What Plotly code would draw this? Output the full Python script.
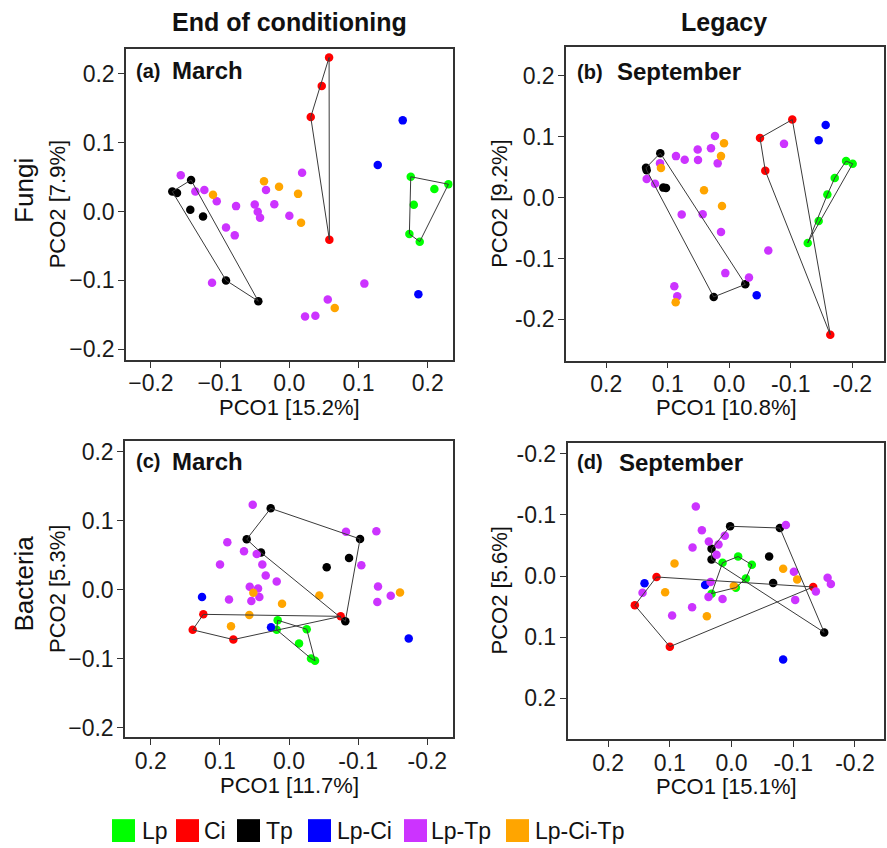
import plotly.graph_objects as go

# ---------------- data ----------------
GROUPS = ["Lp", "Ci", "Tp", "Lp-Ci", "Lp-Tp", "Lp-Ci-Tp"]
COLORS = ["#00FF00", "#FF0000", "#000000", "#0000FF", "#CC33FF", "#FFA500"]
HULL_GROUPS = ["Lp", "Ci", "Tp"]

# Panel (a) Fungi, March
A_LP_X = [0.1754, 0.2298, 0.2095, 0.1798, 0.1734, 0.1884]
A_LP_Y = [0.0505, 0.0396, 0.0328, 0.0097, -0.0326, -0.0438]
A_CI_X = [0.0574, 0.0468, 0.0309, 0.0578]
A_CI_Y = [0.2238, 0.1825, 0.1372, -0.0409]
A_TP_X = [-0.1420, -0.1691, -0.1623, -0.1431, -0.1247, -0.0915, -0.0448]
A_TP_Y = [0.0458, 0.0289, 0.0270, 0.0025, -0.0072, -0.1001, -0.1304]
A_LPCI_X = [0.1638, 0.1277, 0.1864]
A_LPCI_Y = [0.1324, 0.0674, -0.1203]
A_LPTP_X = [-0.1569, -0.1358, -0.1228, -0.1049, -0.0770, -0.0500, -0.0457, -0.0423, -0.0337,
            -0.0217, 0.0000, 0.0184, -0.0915, -0.0789, -0.1117, 0.0227, 0.0376, 0.0555, 0.1084]
A_LPTP_Y = [0.0525, 0.0289, 0.0313, 0.0150, 0.0078, 0.0101, -0.0004, -0.0091, 0.0313,
            0.0107, -0.0062, 0.0563, -0.0231, -0.0347, -0.1034, -0.1525, -0.1516, -0.1279, -0.1048]
A_LPCITP_X = [-0.1103, -0.0366, -0.0149, 0.0126, 0.0169, 0.0656]
A_LPCITP_Y = [0.0245, 0.0439, 0.0361, 0.0256, -0.0163, -0.1401]

# Panel (b) Fungi, September
B_LP_X = [-0.1898, -0.2006, -0.1714, -0.1594, -0.1453, -0.1275]
B_LP_Y = [0.0599, 0.0555, 0.0321, 0.0049, -0.0385, -0.0744]
B_CI_X = [-0.1024, -0.0499, -0.0585, -0.1642]
B_CI_Y = [0.1279, 0.0979, 0.0440, -0.2251]
B_TP_X = [0.1122, 0.1354, 0.1343, 0.1073, 0.1029, 0.0254, -0.0260]
B_TP_Y = [0.0729, 0.0489, 0.0447, 0.0163, 0.0158, -0.1631, -0.1424]
B_LPCI_X = [-0.1567, -0.1453, -0.0445]
B_LPCI_Y = [0.1191, 0.0941, -0.1604]
B_LPTP_X = [0.0233, 0.0298, 0.0514, 0.0867, 0.0725, 0.0509, 0.0189, 0.1127, 0.1343, 0.1208,
            0.0774, 0.0433, 0.0135, -0.0889, -0.0634, 0.0065, -0.0320, 0.0894, 0.0846]
B_LPTP_Y = [0.1011, 0.0811, 0.0790, 0.0680, 0.0620, 0.0615, 0.0561, 0.0561, 0.0305, 0.0228,
            -0.0277, -0.0272, -0.0565, 0.0881, -0.0870, -0.1240, -0.1310, -0.1457, -0.1620]
B_LPCITP_X = [0.0086, 0.0135, 0.1111, 0.0411, 0.0119, 0.0872]
B_LPCITP_Y = [0.0892, 0.0680, 0.0484, 0.0121, -0.0140, -0.1718]

# Panel (c) Bacteria, March
C_LP_X = [0.0164, 0.0178, -0.0256, -0.0145, -0.0318, -0.0376]
C_LP_Y = [-0.0443, -0.0582, -0.0573, -0.0780, -0.0997, -0.1031]
C_CI_X = [0.1239, 0.1393, 0.0805, -0.0747]
C_CI_Y = [-0.0357, -0.0582, -0.0723, -0.0386]
C_TP_X = [0.0265, 0.0612, 0.0405, -0.1027, -0.0868, -0.0545, -0.0814]
C_TP_Y = [0.1181, 0.0733, 0.0539, 0.0737, 0.0462, 0.0328, -0.0458]
C_LPCI_X = [0.1258, 0.0260, -0.1731]
C_LPCI_Y = [-0.0106, -0.0544, -0.0708]
C_LPTP_X = [0.0525, 0.0892, 0.0651, 0.0467, 0.0998, 0.0386, 0.0337, 0.0178, 0.0568, 0.0448,
            0.0429, 0.0545, 0.0868, -0.0824, -0.1263, -0.1046, -0.1287, -0.1471, -0.1277]
C_LPTP_Y = [0.1233, 0.0689, 0.0559, 0.0520, 0.0366, 0.0366, 0.0207, 0.0120, 0.0043, 0.0019,
            -0.0106, -0.0164, -0.0140, 0.0843, 0.0848, 0.0357, 0.0048, -0.0087, -0.0178]
C_LPCITP_X = [0.0516, 0.0101, -0.0438, 0.0574, 0.0839, -0.1605]
C_LPCITP_Y = [-0.0043, -0.0202, -0.0082, -0.0366, -0.0530, -0.0039]

# Panel (d) Bacteria, September
D_LP_X = [-0.0107, -0.0329, 0.0146, -0.0232, -0.0070, 0.0324]
D_LP_Y = [-0.0319, -0.0184, -0.0216, 0.0039, 0.0190, 0.0288]
D_CI_X = [0.1216, 0.1567, 0.1000, -0.1323]
D_CI_Y = [0.0016, 0.0478, 0.1155, 0.0179]
D_TP_X = [0.0023, -0.0783, 0.0324, 0.0324, -0.0609, -0.0674, -0.1501]
D_TP_Y = [-0.0813, -0.0785, -0.0444, -0.0270, -0.0319, 0.0114, 0.0922]
D_LPCI_X = [0.1410, 0.0428, -0.0836]
D_LPCI_Y = [0.0120, 0.0146, 0.1366]
D_LPTP_X = [0.0579, 0.0481, 0.0109, 0.0368, 0.0211, 0.0632, 0.0243, -0.1010, -0.1556, -0.1609,
            -0.1366, -0.1031, 0.0340, 0.0373, 0.0146, 0.0639, 0.0963, -0.0880, 0.1442]
D_LPTP_Y = [-0.1138, -0.0748, -0.0660, -0.0563, -0.0514, -0.0465, -0.0346, -0.0070, 0.0028, 0.0130,
            0.0255, 0.0390, 0.0098, 0.0341, 0.0374, 0.0511, 0.0646, -0.0834, 0.0272]
D_LPCITP_X = [0.0924, -0.0836, -0.1063, 0.1076, -0.0037, 0.0400]
D_LPCITP_Y = [-0.0205, -0.0119, 0.0055, 0.0267, 0.0163, 0.0657]

TICK_VALS = [-0.2, -0.1, 0.0, 0.1, 0.2]
TICK_TEXT_MINUS = ["\u22120.2", "\u22120.1", "0.0", "0.1", "0.2"]
TICK_TEXT_HYPHEN = ["-0.2", "-0.1", "0.0", "0.1", "0.2"]

PANEL_LETTERS = ["(a)", "(b)", "(c)", "(d)"]
PANEL_MONTHS = ["March", "September", "March", "September"]
X_TITLES = ["PCO1 [15.2%]", "PCO1 [10.8%]", "PCO1 [11.7%]", "PCO1 [15.1%]"]
Y_TITLES = ["PCO2 [7.9%]", "PCO2 [9.2%]", "PCO2 [5.3%]", "PCO2 [5.6%]"]
COL_TITLES = ["End of conditioning", "Legacy"]
ROW_TITLES = ["Fungi", "Bacteria"]

PANELS = [
    [(A_LP_X, A_LP_Y), (A_CI_X, A_CI_Y), (A_TP_X, A_TP_Y), (A_LPCI_X, A_LPCI_Y), (A_LPTP_X, A_LPTP_Y), (A_LPCITP_X, A_LPCITP_Y)],
    [(B_LP_X, B_LP_Y), (B_CI_X, B_CI_Y), (B_TP_X, B_TP_Y), (B_LPCI_X, B_LPCI_Y), (B_LPTP_X, B_LPTP_Y), (B_LPCITP_X, B_LPCITP_Y)],
    [(C_LP_X, C_LP_Y), (C_CI_X, C_CI_Y), (C_TP_X, C_TP_Y), (C_LPCI_X, C_LPCI_Y), (C_LPTP_X, C_LPTP_Y), (C_LPCITP_X, C_LPCITP_Y)],
    [(D_LP_X, D_LP_Y), (D_CI_X, D_CI_Y), (D_TP_X, D_TP_Y), (D_LPCI_X, D_LPCI_Y), (D_LPTP_X, D_LPTP_Y), (D_LPCITP_X, D_LPCITP_Y)],
]

# ---------------- layout helpers ----------------
W, H = 887, 848
FONT = "Liberation Sans, Arial, Helvetica, sans-serif"


def px(x):
    return x / W


def py(y):
    return 1 - y / H


def convex_hull(xs, ys):
    pts = sorted(set(zip(xs, ys)))
    if len(pts) < 3:
        return pts

    def cross(o, a, b):
        return (a[0] - o[0]) * (b[1] - o[1]) - (a[1] - o[1]) * (b[0] - o[0])

    lower = []
    for p in pts:
        while len(lower) >= 2 and cross(lower[-2], lower[-1], p) <= 0:
            lower.pop()
        lower.append(p)
    upper = []
    for p in reversed(pts):
        while len(upper) >= 2 and cross(upper[-2], upper[-1], p) <= 0:
            upper.pop()
        upper.append(p)
    return lower[:-1] + upper[:-1]


# pixel boxes of the four plot areas: (left, top, right, bottom)
BOXES = [(126, 47, 452.7, 360), (566, 45, 884, 360.7),
         (125, 441.7, 452.7, 739.8), (567.5, 443.3, 884, 741.7)]
X_RANGES = [[-0.236, 0.236], [0.2655, -0.2515], [0.2372, -0.2367], [0.2658, -0.247]]
Y_RANGES = [[-0.2156, 0.2365], [-0.2675, 0.2475], [-0.2143, 0.2157], [0.267, -0.218]]
X_TICKTEXT = [TICK_TEXT_MINUS, TICK_TEXT_HYPHEN, TICK_TEXT_HYPHEN, TICK_TEXT_HYPHEN]
Y_TICKTEXT = [TICK_TEXT_MINUS, TICK_TEXT_HYPHEN, TICK_TEXT_MINUS, TICK_TEXT_HYPHEN]

fig = go.Figure()

for i, panel in enumerate(PANELS):
    suffix = "" if i == 0 else str(i + 1)
    xref, yref = "x" + suffix, "y" + suffix
    # points
    for g, (xs, ys) in enumerate(panel):
        fig.add_trace(go.Scatter(
            x=xs, y=ys, mode="markers", xaxis=xref, yaxis=yref,
            marker=dict(size=8.5, color=COLORS[g], line=dict(width=0)),
            showlegend=False, hoverinfo="skip"))
    # hulls
    for g, (xs, ys) in enumerate(panel):
        if GROUPS[g] not in HULL_GROUPS:
            continue
        h = convex_hull(xs, ys)
        h = h + [h[0]]
        fig.add_trace(go.Scatter(
            x=[p[0] for p in h], y=[p[1] for p in h], mode="lines",
            xaxis=xref, yaxis=yref, line=dict(color="#3a3a3a", width=1),
            showlegend=False, hoverinfo="skip"))

axis_common = dict(showline=True, linecolor="#333333", linewidth=1.5, mirror=True,
                   ticks="outside", ticklen=6, tickwidth=1.2, tickcolor="#333333",
                   showgrid=False, zeroline=False, tickvals=TICK_VALS,
                   tickfont=dict(family=FONT, size=23, color="#1a1a1a"))

layout_axes = {}
for i in range(4):
    suffix = "" if i == 0 else str(i + 1)
    l, t, r, b = BOXES[i]
    layout_axes["xaxis" + suffix] = dict(axis_common, domain=[px(l), px(r)], range=X_RANGES[i],
                                         ticktext=X_TICKTEXT[i], anchor="y" + suffix,
                                         ticklabelstandoff=-4)
    layout_axes["yaxis" + suffix] = dict(axis_common, domain=[py(b), py(t)], range=Y_RANGES[i],
                                         ticktext=Y_TICKTEXT[i], anchor="x" + suffix,
                                         ticklabelstandoff=-1)

annotations = []


def ann(text, x, y, size, bold=False, angle=0, xanchor="center", yanchor="middle"):
    annotations.append(dict(
        text=("<b>%s</b>" % text) if bold else text, x=px(x), y=py(y), xref="paper", yref="paper",
        showarrow=False, textangle=angle, xanchor=xanchor, yanchor=yanchor,
        font=dict(family=FONT, size=size, color="#111111")))


# column and row titles
ann(COL_TITLES[0], 289, 20, 25, bold=True)
ann(COL_TITLES[1], 724, 20, 25, bold=True)
ann(ROW_TITLES[0], 24, 190, 26, angle=-90)
ann(ROW_TITLES[1], 24, 585, 26, angle=-90)

# axis titles
xt_pos = [(289, 408), (726, 408), (289, 788), (726, 789)]
yt_pos = [(57, 203.5), (500, 203), (57, 590.5), (500, 592)]
for i in range(4):
    ann(X_TITLES[i], xt_pos[i][0], xt_pos[i][1], 22)
    ann(Y_TITLES[i], yt_pos[i][0], yt_pos[i][1], 22, angle=-90)

# panel labels
lab_pos = [(134, 170, 69), (575, 615, 70), (134, 170, 462), (575, 617, 463)]
for i in range(4):
    lx, mx, ly = lab_pos[i]
    ann(PANEL_LETTERS[i], lx, ly, 20, bold=True, xanchor="left")
    ann(PANEL_MONTHS[i], mx, ly, 24, bold=True, xanchor="left")

# legend (squares + labels)
shapes = []
sq_left = [112, 176, 237, 308, 404, 506]
tx_left = [140, 202, 264, 335, 429, 533]
for g, name in enumerate(GROUPS):
    shapes.append(dict(type="rect", xref="paper", yref="paper",
                       x0=px(sq_left[g]), x1=px(sq_left[g] + 23), y0=py(845), y1=py(822),
                       fillcolor=COLORS[g], line=dict(width=0)))
    ann(name, tx_left[g], 834, 23, xanchor="left")

fig.update_layout(
    width=W, height=H, margin=dict(l=0, r=0, t=0, b=0),
    paper_bgcolor="white", plot_bgcolor="white", showlegend=False,
    annotations=annotations, shapes=shapes, **layout_axes)

fig.write_html("out.html")
